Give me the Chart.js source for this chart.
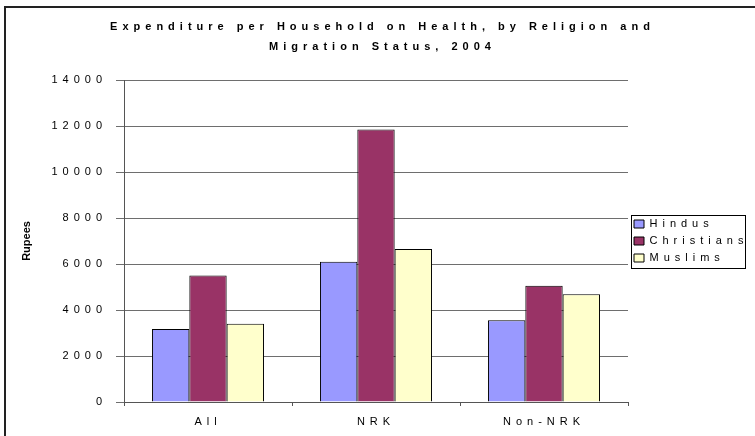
<!DOCTYPE html>
<html>
<head>
<meta charset="utf-8">
<title>Expenditure per Household on Health</title>
<script src="https://cdn.jsdelivr.net/npm/chart.js@4"></script>
<style>
  body { margin: 0; background: #fff; overflow: hidden; }
  #frame {
    position: absolute; left: 4px; top: 6px;
    width: 800px; height: 500px;
    border: 2px solid #222;
  }
  #wrap { position: absolute; left: 0; top: 0; width: 755px; height: 436px; }
</style>
</head>
<body>
<div id="frame"></div>
<div id="wrap"><canvas id="healthChart"></canvas></div>
<script>
    const categories = ["All", "NRK", "Non-NRK"];
    const hindus = [3170, 6100, 3550];
    const christians = [5500, 11850, 5050];
    const muslims = [3400, 6650, 4680];
    const yTicks = [0, 2000, 4000, 6000, 8000, 10000, 12000, 14000];

    const FONT = "'Liberation Sans', Arial, sans-serif";
    const SPACING = "5px";

    // spaced-out lettering for title, legend and tick labels; axis title stays plain
    const letterSpacing = {
        id: "letterSpacing",
        beforeInit(chart) {
            Chart.layouts.addBox(chart, {
                position: "chartArea",
                options: {},
                isHorizontal() { return false; },
                update() {},
                draw() {},
                _layers() {
                    return [{ z: -0.5, draw() { chart.ctx.letterSpacing = SPACING; } }];
                }
            });
        },
        beforeUpdate(chart) { chart.ctx.letterSpacing = SPACING; },
        beforeDraw(chart) { chart.ctx.letterSpacing = "0px"; }
    };

    // thin box around the legend entries
    const legendFrame = {
        id: "legendFrame",
        afterDraw(chart) {
            const boxes = chart.legend.legendHitBoxes;
            if (!boxes || !boxes.length) return;
            const first = boxes[0], last = boxes[boxes.length - 1];
            const left = Math.min(...boxes.map(b => b.left)) - 3;
            const top = first.top - 4;
            const bottom = last.top + last.height + 4;
            const ctx = chart.ctx;
            ctx.save();
            ctx.strokeStyle = "#000";
            ctx.lineWidth = 1;
            ctx.strokeRect(Math.round(left) + 0.5, Math.round(top) + 0.5, 114, Math.round(bottom - top));
            ctx.restore();
        }
    };

    const ctx = document.getElementById("healthChart");
    new Chart(ctx.getContext("2d"), {
        type: "bar",
        data: {
            labels: categories,
            datasets: [
                { label: "Hindus", data: hindus, backgroundColor: "#9999FF" },
                { label: "Christians", data: christians, backgroundColor: "#993366" },
                { label: "Muslims", data: muslims, backgroundColor: "#FFFFCC" }
            ]
        },
        options: {
            responsive: true,
            maintainAspectRatio: false,
            animation: false,
            layout: { padding: { left: 10, right: 0, top: 0, bottom: 0 } },
            datasets: {
                bar: {
                    categoryPercentage: 0.667,
                    barPercentage: 1.0,
                    borderColor: "#000",
                    borderWidth: 1
                }
            },
            scales: {
                x: {
                    offset: true,
                    grid: {
                        display: true,
                        offset: true,
                        drawOnChartArea: false,
                        tickLength: 4,
                        color: "#555"
                    },
                    border: { color: "#555" },
                    ticks: {
                        color: "#000",
                        padding: 9,
                        font: { family: FONT, size: 11 }
                    },
                    afterFit(scale) { scale.height = 34; }
                },
                y: {
                    min: 0,
                    max: 14000,
                    afterBuildTicks(scale) { scale.ticks = yTicks.map(v => ({ value: v })); },
                    grid: { color: "#6e6e6e", tickLength: 8 },
                    border: { color: "#555" },
                    ticks: {
                        color: "#000",
                        padding: 9,
                        font: { family: FONT, size: 11 },
                        callback: (value) => String(value)
                    },
                    title: {
                        display: true,
                        text: "Rupees",
                        color: "#000",
                        padding: { top: 10, bottom: 0 },
                        font: { family: FONT, size: 11, weight: "bold" }
                    },
                    afterFit(scale) { scale.width = 114; }
                }
            },
            plugins: {
                title: {
                    display: true,
                    text: ["Expenditure per Household on Health, by Religion and", "Migration Status, 2004"],
                    color: "#000",
                    padding: { top: 17, bottom: 23 },
                    font: { family: FONT, size: 11, weight: "bold", lineHeight: 20 / 11 }
                },
                legend: {
                    position: "right",
                    align: "center",
                    fullSize: false,
                    maxWidth: 127,
                    labels: {
                        boxWidth: 10,
                        boxHeight: 8,
                        padding: 6,
                        color: "#000",
                        font: { family: FONT, size: 11 }
                    }
                },
                tooltip: { enabled: false }
            }
        },
        plugins: [letterSpacing, legendFrame]
    });
</script>
</body>
</html>
